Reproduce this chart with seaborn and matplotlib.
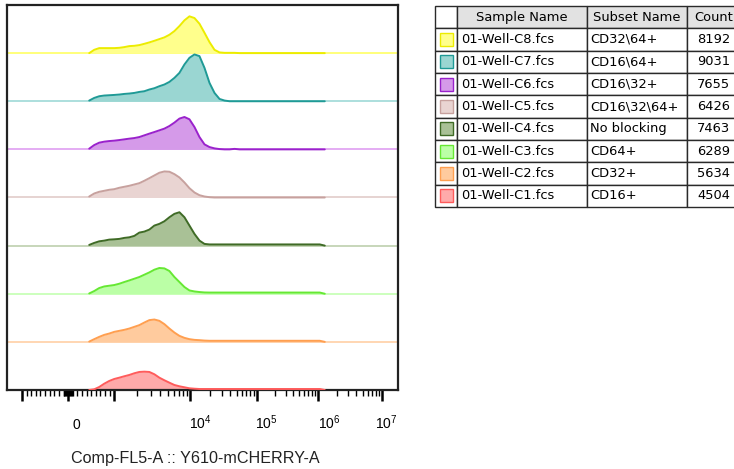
import matplotlib
matplotlib.use("Agg")
import numpy as np
import pandas as pd
import matplotlib.pyplot as plt
import matplotlib.transforms as mtransforms
from matplotlib.patches import Rectangle
from matplotlib.ticker import FixedLocator, FixedFormatter, NullFormatter
import seaborn as sns

# ---- sample table -------------------------------------------------------
samples = ["01-Well-C8.fcs", "01-Well-C7.fcs", "01-Well-C6.fcs", "01-Well-C5.fcs",
           "01-Well-C4.fcs", "01-Well-C3.fcs", "01-Well-C2.fcs", "01-Well-C1.fcs"]
subsets = ["CD32\\64+", "CD16\\64+", "CD16\\32+", "CD16\\32\\64+",
           "No blocking", "CD64+", "CD32+", "CD16+"]
counts = [8192, 9031, 7655, 6426, 7463, 6289, 5634, 4504]

line_colors = ["#ecec00", "#1f9a96", "#9a22cc", "#c7a19e",
               "#3f6b26", "#66e833", "#ff9f50", "#ff5c5c"]
fill_colors = ["#ffff8c", "#9ad6d2", "#d59ae9", "#e9d4d2",
               "#a9c196", "#bbffa6", "#ffcb9e", "#ffaaaa"]
base_colors = ["#ffff70", "#a6dcda", "#e2a6f2", "#e4d0ce",
               "#c3d3b4", "#c8ffb8", "#ffd3ad", "#ffaaaa"]

# ---- histogram bins (Comp-FL5-A channel values) --------------------------
channel = [457, 565, 674, 783, 891, 1000, 1164, 1354, 1576, 1834, 2133, 2482,
           2888, 3360, 3909, 4549, 5292, 6158, 7166, 8340, 9701, 11500,
           13690, 16300, 19410, 23100, 27500, 32750, 39000, 46420, 55260,
           78320, 112000, 238300, 507000, 1075000, 1286000]

# relative frequency per bin (one lane = 48 units)
freq_c8 = [0, 3.3, 5, 5, 5, 5, 5.3, 6, 7, 7.3, 8, 9.3, 10.7, 12.3, 14, 15.7,
           18.3, 22, 27, 32.7, 36.7, 35, 29.3, 20.3, 11, 3.3, 0.7, 0.3, 0.3,
           0.3, 0, 0, 0, 0, 0, 0, 0]
freq_c7 = [0.7, 3.3, 5, 5.7, 6, 6.3, 6.7, 7.3, 7.7, 8.3, 9.3, 10, 11.7, 13,
           15, 16.7, 19.3, 23.3, 28.3, 36.7, 43.3, 46.7, 45, 33.3, 18.3, 8.3,
           2.3, 0.7, 0, 0, 0, 0, 0, 0, 0, 0, 0]
freq_c6 = [0.7, 4.3, 6.7, 7.7, 8.3, 8.7, 9.3, 10, 10.7, 11.3, 12.3, 14, 15.7,
           17.3, 19, 20.7, 23.3, 26.7, 30.7, 32.3, 30, 22.3, 12.3, 5, 2.3, 1,
           0.3, 0, 0, 0.5, 0, 0, 0, 0, 0, 0, 0]
freq_c5 = [1, 4, 5.7, 6.7, 7.7, 8.3, 9.7, 10.7, 11.7, 13, 14.3, 16.7, 19.3, 22,
           24.7, 26, 25.7, 23.3, 20, 15, 9.3, 5, 2.3, 1, 0.3, 0, 0, 0, 0, 0,
           0, 0, 0, 0, 0, 0, 0]
freq_c4 = [0.7, 2.7, 4.3, 5, 6, 6.3, 6.7, 7.7, 8.3, 9.7, 13, 14, 16, 20, 21.7,
           24.3, 28.3, 31.7, 33.3, 28.3, 20, 11.7, 5, 1.7, 1.2, 1.2, 1.2, 1.2,
           1.2, 1.2, 1.2, 1.2, 1.2, 1.2, 1.2, 1.2, 0]
freq_c3 = [0.3, 2.7, 5.7, 7.3, 8, 8.7, 10, 11.7, 13.3, 15, 16.7, 19, 21.3, 24,
           25.7, 25.3, 22.7, 16.7, 11.7, 6.7, 3.3, 2.3, 1.7, 1.3, 1.2, 1.2, 1.2,
           1.2, 1.2, 1.2, 1.2, 1.2, 1.2, 1.2, 1.2, 1.2, 0]
freq_c2 = [0.3, 2.7, 5, 7, 8.3, 10, 11, 12, 13.3, 15, 16.7, 19.3, 21.7, 22.3,
           21, 17.7, 13.3, 9.3, 6, 4, 2.7, 2, 1.7, 1.3, 1.1, 1.1, 1.1, 1.1, 1.1,
           1.1, 1.1, 1.1, 1.1, 1.1, 1.1, 1.1, 0]
freq_c1 = [0, 0.7, 3, 6.3, 9, 11, 12.3, 13.7, 15, 16.7, 18, 18.3, 18, 15.7,
           12.3, 9.7, 7.3, 5, 3.7, 2.7, 1.7, 1.3, 1, 1, 1, 1, 1, 1, 1, 1, 1, 1,
           1, 1, 1, 1, 0]
freqs = [freq_c8, freq_c7, freq_c6, freq_c5, freq_c4, freq_c3, freq_c2, freq_c1]

lane = 48
n = len(samples)

# ---- biexponential-style display transform --------------------------------
# linear between -1000 and 1000, log decades beyond (display units = pixels)
LIN_SLOPE = 0.046
DEC = np.array([3.0, 4.0, 5.0, 6.0, 7.0, 9.0])
POS = np.array([46.0, 122.0, 188.0, 249.0, 313.0, 441.0])
NEG_DEC = np.array([3.0, 5.0])
NEG_POS = np.array([46.0, 198.0])


def biex_forward(x):
    x = np.asarray(x, dtype=float)
    a = np.abs(x)
    lg = np.log10(np.maximum(a, 1000.0))
    pos_side = np.where(a <= 1000, a * LIN_SLOPE, np.interp(lg, DEC, POS))
    neg_side = np.where(a <= 1000, a * LIN_SLOPE, np.interp(lg, NEG_DEC, NEG_POS))
    return np.where(x >= 0, pos_side, -neg_side)


def biex_inverse(p):
    p = np.asarray(p, dtype=float)
    a = np.abs(p)
    pos_side = np.where(a <= 46, a / LIN_SLOPE, 10 ** np.interp(a, POS, DEC))
    neg_side = np.where(a <= 46, a / LIN_SLOPE, 10 ** np.interp(a, NEG_POS, NEG_DEC))
    return np.where(p >= 0, pos_side, -neg_side)


# ---- axis ticks -----------------------------------------------------------
major_ticks = [-1000, 0, 1000, 1e4, 1e5, 1e6, 1e7]
major_labels = ["", "0", "", r"$\mathrm{10}^{\mathrm{4}}$",
                r"$\mathrm{10}^{\mathrm{5}}$", r"$\mathrm{10}^{\mathrm{6}}$",
                r"$\mathrm{10}^{\mathrm{7}}$"]
label_shift_px = [0, 8, 0, 10, 10, 12, 4]
minor_ticks = ([-m * 100 for m in range(1, 10)] + [m * 100 for m in range(1, 10)]
               + [s * m * 20 for s in (-1, 1) for m in range(1, 5)]
               + [m * 10 ** d for d in range(3, 7) for m in range(2, 10)])

sns.set_style("white")
plt.rcParams["font.family"] = ["Liberation Sans", "DejaVu Sans"]
plt.rcParams["text.color"] = "black"
plt.rcParams["mathtext.fontset"] = "custom"
plt.rcParams["mathtext.rm"] = "Liberation Sans"
plt.rcParams["mathtext.it"] = "Liberation Sans:italic"
plt.rcParams["mathtext.bf"] = "Liberation Sans:bold"

W, H = 734, 469
fig = plt.figure(figsize=(W / 100, H / 100), dpi=100)
fig.patch.set_facecolor("white")

ax = fig.add_axes([7 / W, 1 - 390 / H, 391 / W, 385 / H])

rows = []
for i, (s, f) in enumerate(zip(samples, freqs)):
    off = (n - 1 - i) * lane
    for c, v in zip(channel, f):
        rows.append({"sample": s, "channel": c, "y": off + v, "offset": off})
df = pd.DataFrame(rows)

ax.set_xscale("function", functions=(biex_forward, biex_inverse))

for i, s in enumerate(samples):
    sub = df[df["sample"] == s]
    off = (n - 1 - i) * lane
    ax.axhline(off, color=base_colors[i], lw=1.3, zorder=1)
    ax.fill_between(sub["channel"], off, sub["y"], color=fill_colors[i],
                    lw=0, zorder=2)

sns.lineplot(data=df, x="channel", y="y", hue="sample", hue_order=samples,
             palette=line_colors, estimator=None, sort=False, legend=False,
             lw=1.4, ax=ax, zorder=3)

ax.set_xlim(-1575, 1.78e7)
ax.set_ylim(0, n * lane)
ax.set_yticks([])
ax.set_ylabel("")

ax.xaxis.set_major_locator(FixedLocator(major_ticks))
ax.xaxis.set_major_formatter(FixedFormatter(major_labels))
ax.xaxis.set_minor_locator(FixedLocator(minor_ticks))
ax.xaxis.set_minor_formatter(NullFormatter())
ax.tick_params(axis="x", which="major", direction="out", length=8, width=1.8,
               color="black", pad=20, labelsize=10, labelcolor="black",
               bottom=True)
ax.tick_params(axis="x", which="minor", direction="out", length=4, width=1.0,
               color="black", bottom=True)
for t, dx in zip(ax.xaxis.get_major_ticks(), label_shift_px):
    t.label1.set_verticalalignment("baseline")
    t.label1.set_transform(t.label1.get_transform() +
                           mtransforms.ScaledTranslation(dx / 100, 0,
                                                         fig.dpi_scale_trans))

for sp in ax.spines.values():
    sp.set_visible(True)
    sp.set_color("#222222")
    sp.set_linewidth(1.6)

ax.set_xlabel("Comp-FL5-A :: Y610-mCHERRY-A", fontsize=11.6, labelpad=14,
              color="#222222")
ax.xaxis.label.set_x(0.481)

# ---- sample table ---------------------------------------------------------
tx0, tx1, ty0, ty1 = 435, 740, 6, 207
tax = fig.add_axes([tx0 / W, 1 - ty1 / H, (tx1 - tx0) / W, (ty1 - ty0) / H])
tax.axis("off")
col_w = [22, 130, 100, 53]
tw = sum(col_w)
cell_text = [["", s, sub, str(c)] for s, sub, c in zip(samples, subsets, counts)]
tbl = tax.table(cellText=cell_text,
                colLabels=["", "Sample Name", "Subset Name", "Count"],
                colWidths=[w / tw for w in col_w], bbox=[0, 0, 1, 1],
                cellLoc="left")
tbl.auto_set_font_size(False)
for (r, c), cell in tbl.get_celld().items():
    cell.set_edgecolor("#2a2a2a")
    cell.set_linewidth(1.0)
    txt = cell.get_text()
    txt.set_fontsize(9.4)
    txt.set_fontfamily(["DejaVu Sans"])
    txt.set_color("black")
    cell.PAD = 0.03
    if r == 0:
        cell.set_facecolor("white" if c == 0 else "#e2e2e2")
    else:
        cell.set_facecolor("white")
    if r == 0 or c == 3:
        cell._loc = "center"
        txt.set_horizontalalignment("center")

row_h = 1 / (n + 1)
sw_w = 13 / (tx1 - tx0)
sw_h = 13 / (ty1 - ty0)
for i in range(n):
    cy = 1 - row_h * (i + 1.5)
    cx = (col_w[0] / 2) / tw
    tax.add_patch(Rectangle((cx - sw_w / 2, cy - sw_h / 2), sw_w, sw_h,
                            facecolor=fill_colors[i], edgecolor=line_colors[i],
                            lw=1.0, transform=tax.transAxes, zorder=5,
                            clip_on=False))

fig.savefig("out.png", dpi=100)
